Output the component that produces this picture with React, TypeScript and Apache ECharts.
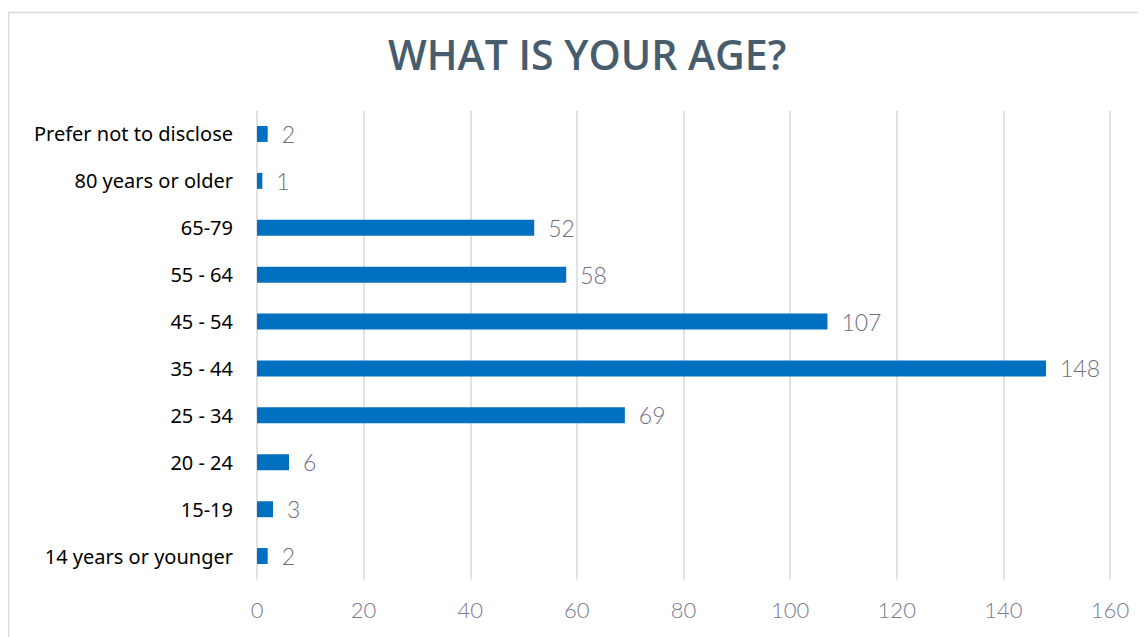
import React, { useEffect, useRef } from "react";
import * as echarts from "echarts";

const categories = [
  "14 years or younger",
  "15-19",
  "20 - 24",
  "25 - 34",
  "35 - 44",
  "45 - 54",
  "55 - 64",
  "65-79",
  "80 years or older",
  "Prefer not to disclose",
];
const counts = [2, 3, 6, 69, 148, 107, 58, 52, 1, 2];
const xTicks = { min: 0, max: 160, interval: 20 };

export default function App() {
  const ref = useRef<HTMLDivElement>(null);
  useEffect(() => {
    if (!ref.current) return;
    const chart = echarts.init(ref.current, undefined, { renderer: "svg" });
    chart.setOption({
      animation: false,
      backgroundColor: "#ffffff",
      graphic: [
        {
          type: "rect",
          shape: { x: 0.5, y: 4.5, width: 1300, height: 800 },
          style: { fill: "none", stroke: "#d9d9d9", lineWidth: 1.5 },
          silent: true,
        },
      ],
      title: {
        text: "WHAT IS YOUR AGE?",
        left: 375,
        top: 20,
        textStyle: {
          fontFamily: "Open Sans",
          fontWeight: 600,
          fontSize: 41,
          color: "#475c6c",
        },
      },
      grid: { left: 249, right: 36, top: 102.5, bottom: 57.5, containLabel: false },
      xAxis: {
        type: "value",
        min: xTicks.min,
        max: xTicks.max,
        interval: xTicks.interval,
        axisLine: { show: false },
        axisTick: { show: false },
        splitLine: { show: true, lineStyle: { color: "#d9d9d9", width: 1.5 } },
        axisLabel: {
          margin: 19,
          fontFamily: "Lato",
          fontWeight: 300,
          fontSize: 22,
          color: "#7a7a90",
        },
      },
      yAxis: {
        type: "category",
        data: categories,
        axisLine: { show: false },
        axisTick: { show: false },
        axisLabel: {
          margin: 24,
          fontFamily: "Noto Sans",
          fontSize: 20,
          color: "#000000",
        },
      },
      series: [
        {
          type: "bar",
          data: counts,
          barWidth: 16,
          itemStyle: { color: "#0070c0" },
          label: {
            show: true,
            position: "right",
            distance: 14,
            fontFamily: "Lato",
            fontWeight: 300,
            fontSize: 23,
            color: "#6e6e80",
          },
        },
      ],
    });
    return () => chart.dispose();
  }, []);
  return <div ref={ref} style={{ width: 1138, height: 629 }} />;
}
